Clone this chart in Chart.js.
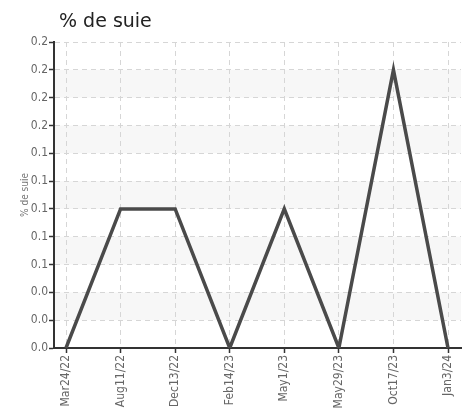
<!DOCTYPE html>
<html>
<head>
<meta charset="utf-8">
<script src="https://cdn.jsdelivr.net/npm/chart.js@4"></script>
<style>
  html, body { margin: 0; padding: 0; background: #fff; }
  #wrap { width: 470px; height: 413px; }
</style>
</head>
<body>
<div id="wrap"><canvas id="suieChart" width="470" height="413"></canvas></div>
<script>
// dates (category labels) et % de suie
const dates = ['Mar24/22', 'Aug11/22', 'Dec13/22', 'Feb14/23', 'May1/23', 'May29/23', 'Oct17/23', 'Jan3/24'];
const suie = [0, 0.1, 0.1, 0, 0.1, 0, 0.2, 0];

// graduations de l'axe y (valeurs et libellés arrondis comme sur l'original)
const yTicks = [0, 0.02, 0.04, 0.06, 0.08, 0.10, 0.12, 0.14, 0.16, 0.18, 0.20, 0.22];
const yTickLabels = ['0.0', '0.0', '0.0', '0.1', '0.1', '0.1', '0.1', '0.1', '0.2', '0.2', '0.2', '0.2'];

const tickFont = { family: "'DejaVu Sans Condensed', 'Roboto', sans-serif", size: 12 };

// bandes grises alternées + titre
const decor = {
    id: 'decor',
    beforeDraw(chart) {
        const { ctx, chartArea, scales } = chart;
        const y = scales.y;
        ctx.save();
        ctx.fillStyle = '#f7f7f7';
        for (let i = 1; i < yTicks.length - 1; i += 2) {
            const top = y.getPixelForValue(yTicks[i + 1]);
            const bottom = y.getPixelForValue(yTicks[i]);
            ctx.fillRect(chartArea.left, top, chartArea.right - chartArea.left, bottom - top);
        }
        ctx.fillStyle = '#222';
        ctx.font = "19px 'DejaVu Sans', sans-serif";
        ctx.textBaseline = 'alphabetic';
        ctx.fillText('% de suie', 59, 27);
        ctx.restore();
    }
};

const gridOpts = {
    color: '#d6d6d6',
    tickColor: '#333',
    tickLength: 5,
    tickWidth: 1.5,
    tickBorderDash: [0, 0]
};
const borderOpts = { color: '#333', width: 2, dash: [5, 4] };

new Chart(document.getElementById('suieChart'), {
    type: 'line',
    data: {
        datasets: [{
            label: '% de suie',
            data: suie.map((v, i) => ({ x: i, y: v })),
            borderColor: '#4a4a4a',
            borderWidth: 3.5,
            pointRadius: 0,
            tension: 0,
            fill: false
        }]
    },
    options: {
        responsive: false,
        animation: false,
        layout: { padding: { top: 42, right: 9, left: 0, bottom: 0 } },
        plugins: {
            legend: { display: false },
            tooltip: { enabled: false }
        },
        scales: {
            x: {
                type: 'linear',
                min: -0.22,
                max: 7.238,
                afterBuildTicks: s => { s.ticks = dates.map((_, i) => ({ value: i })); },
                afterFit: s => { s.height = 65; },
                ticks: {
                    autoSkip: false,
                    minRotation: 90,
                    maxRotation: 90,
                    padding: 2,
                    color: '#666',
                    font: tickFont,
                    callback: v => dates[v]
                },
                grid: gridOpts,
                border: borderOpts
            },
            y: {
                min: 0,
                max: 0.22,
                afterBuildTicks: s => { s.ticks = yTicks.map(v => ({ value: v })); },
                afterFit: s => { s.width = 54; },
                ticks: {
                    padding: 1,
                    color: '#666',
                    font: tickFont,
                    callback: (v, i) => yTickLabels[i]
                },
                title: {
                    display: true,
                    text: '% de suie',
                    color: '#777',
                    font: { family: "'DejaVu Sans Condensed', 'Roboto', sans-serif", size: 10 },
                    padding: { top: 19, bottom: 0 }
                },
                grid: gridOpts,
                border: borderOpts
            }
        }
    },
    plugins: [decor]
});
</script>
</body>
</html>
